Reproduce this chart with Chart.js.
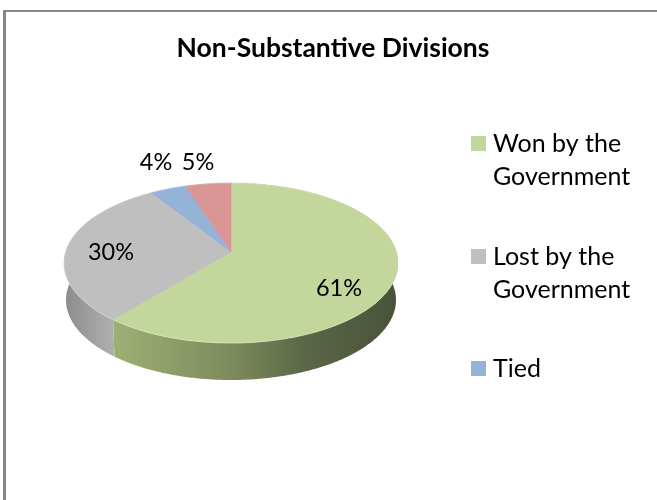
<!DOCTYPE html>
<html>
<head>
<meta charset="utf-8">
<style>
  html, body { margin: 0; padding: 0; background: #fff; }
  #wrap { position: relative; width: 657px; height: 500px; }
</style>
<script src="https://cdn.jsdelivr.net/npm/chart.js@4"></script>
</head>
<body>
<div id="wrap"><canvas id="chart" width="657" height="500"></canvas></div>
<script>
const chartTitle = 'Non-Substantive Divisions';
const categories = ['Won by the Government', 'Lost by the Government', 'Tied', 'Other'];
const shares = [61, 30, 4, 5];
const sliceColors = ['#c3d69b', '#bfbfbf', '#95b3d7', '#d99694'];
const legendLines = [['Won by the', 'Government'], ['Lost by the', 'Government'], ['Tied']];

// Side-wall shading per slice, as [fraction across the pie, colour]
const wallShades = [
  [[0.15, '#9db074'], [0.5, '#7d8b5c'], [0.72, '#5b6746'], [1, '#48523a']],
  [[0, '#8c8c8c'], [0.16, '#b2b2b2']],
  [[0, '#7f94b0'], [1, '#7f94b0']],
  [[0, '#b07a78'], [1, '#b07a78']]
];

// Tilted disc: a perspective projection of the unit circle
const disc = { cx: 231, cy: 252, ax: 165.4, ay: 78.5, persp: -0.1375, depth: 37, wallScale: 0.988 };
function project(angle) {
  const u = Math.cos(angle), v = Math.sin(angle);
  const w = 1 + disc.persp * v;
  return { x: disc.cx + disc.ax * u / w, y: disc.cy + disc.ay * v / w };
}
function rimPoints(a0, a1) {
  const n = Math.max(2, Math.ceil((a1 - a0) / 0.01));
  const pts = [];
  for (let i = 0; i <= n; i++) pts.push(project(a0 + (a1 - a0) * i / n));
  return pts;
}

// Offsets of each value label from the disc centre
const labelOffsets = [[108, 36], [-120, 0], [-75, -90], [-33, -90]];
const legendLayout = { boxX: 471, textX: 493, boxSize: 15, lineHeight: 33, firstLineY: [143.5, 256.5, 368.5] };

const tiltedPie = {
  id: 'tiltedPie',
  beforeDatasetDraw(chart, args) {
    const ctx = chart.ctx;
    const arcs = args.meta.data;
    const left = disc.cx - 167, span = 334;

    // side walls first, then the top face over them
    arcs.forEach((arc, i) => {
      const rim = rimPoints(arc.startAngle, arc.endAngle);
      const grad = ctx.createLinearGradient(left, 0, left + span, 0);
      wallShades[i].forEach(s => grad.addColorStop(s[0], s[1]));
      ctx.beginPath();
      rim.forEach((p, k) => k ? ctx.lineTo(p.x, p.y) : ctx.moveTo(p.x, p.y));
      rim.slice().reverse().forEach(p => {
        ctx.lineTo(disc.cx + (p.x - disc.cx) * disc.wallScale, p.y + disc.depth);
      });
      ctx.closePath();
      ctx.fillStyle = grad;
      ctx.fill();
    });

    arcs.forEach((arc, i) => {
      const rim = rimPoints(arc.startAngle, arc.endAngle);
      ctx.beginPath();
      ctx.moveTo(disc.cx, disc.cy);
      rim.forEach(p => ctx.lineTo(p.x, p.y));
      ctx.closePath();
      ctx.fillStyle = sliceColors[i];
      ctx.fill();
      ctx.strokeStyle = sliceColors[i];
      ctx.lineWidth = 0.6;
      ctx.stroke();

      // faint highlight along the outer edge
      ctx.beginPath();
      rim.forEach((p, k) => k ? ctx.lineTo(p.x, p.y) : ctx.moveTo(p.x, p.y));
      ctx.strokeStyle = 'rgba(255,255,255,0.28)';
      ctx.lineWidth = 1;
      ctx.stroke();
    });
    return false;
  },
  afterDatasetsDraw(chart) {
    const ctx = chart.ctx;
    ctx.save();
    ctx.fillStyle = '#000';
    ctx.font = '23.5px Lato';
    ctx.textAlign = 'center';
    ctx.textBaseline = 'middle';
    shares.forEach((v, i) => {
      ctx.fillText(v + '%', disc.cx + labelOffsets[i][0], disc.cy + labelOffsets[i][1]);
    });

    // legend: the fourth category has no entry
    ctx.font = '25px Lato';
    ctx.textAlign = 'left';
    legendLines.forEach((lines, i) => {
      const y0 = legendLayout.firstLineY[i];
      ctx.fillStyle = sliceColors[i];
      ctx.fillRect(legendLayout.boxX, y0 - legendLayout.boxSize / 2, legendLayout.boxSize, legendLayout.boxSize);
      ctx.fillStyle = '#000';
      lines.forEach((line, k) => {
        ctx.fillText(line, legendLayout.textX, y0 + k * legendLayout.lineHeight);
      });
    });

    // chart frame: only the top and left edges are ruled
    ctx.fillStyle = '#878787';
    ctx.fillRect(3, 10, 654, 2);
    ctx.fillRect(3, 10, 3, 490);
    ctx.restore();
  }
};

new Chart(document.getElementById('chart'), {
  type: 'pie',
  data: {
    labels: categories,
    datasets: [{ data: shares, backgroundColor: sliceColors, borderWidth: 0 }]
  },
  options: {
    responsive: false,
    animation: false,
    layout: { padding: { left: 9, top: 33 } },
    plugins: {
      legend: { display: false },
      tooltip: { enabled: false },
      title: {
        display: true,
        text: chartTitle,
        color: '#000',
        font: { family: 'Lato', size: 26.5, weight: 'bold' },
        padding: 0
      }
    }
  },
  plugins: [tiltedPie]
});
</script>
</body>
</html>
